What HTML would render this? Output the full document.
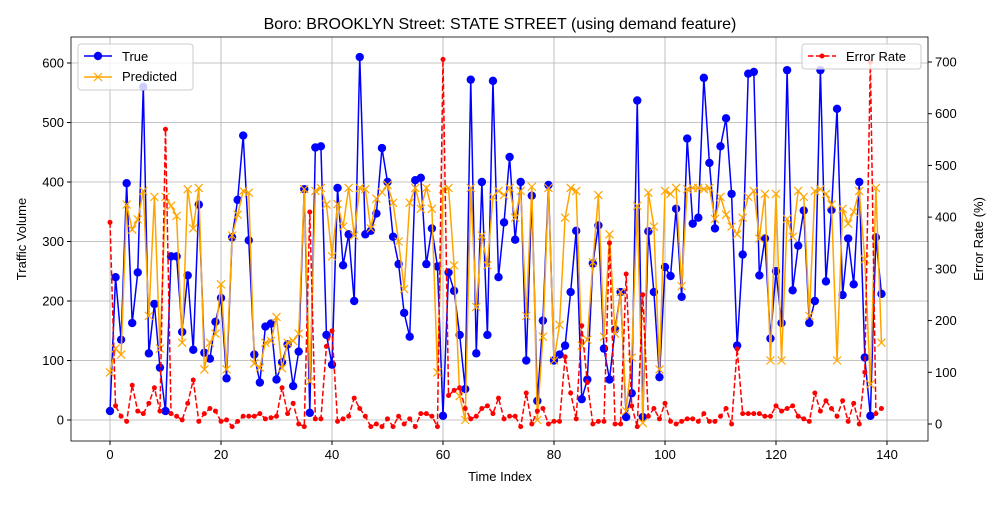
<!DOCTYPE html>
<html><head><meta charset="utf-8"><style>
body{margin:0;background:#fff;font-family:"Liberation Sans","DejaVu Sans",sans-serif}
svg text{font-family:"Liberation Sans","DejaVu Sans",sans-serif}
</style></head><body>
<svg id="c" width="1000" height="500" xmlns="http://www.w3.org/2000/svg"></svg>
<script>
const trueVals=[15,240,135,398,163,248,560,112,195,88,15,275,275,148,243,118,362,113,103,165,205,70,307,370,478,302,110,63,157,162,68,97,127,57,115,388,12,458,460,143,93,390,260,312,200,610,312,318,347,457,400,308,262,180,140,403,407,262,322,258,7,248,217,143,52,572,112,400,143,570,240,332,442,303,400,100,377,32,167,395,100,110,125,215,318,35,68,263,327,120,68,152,215,5,45,537,5,317,215,72,257,242,355,207,473,330,340,575,432,322,460,507,380,125,278,582,585,243,305,137,250,163,588,218,293,352,163,200,588,233,353,523,210,305,228,400,105,7,307,212];
const predVals=[80,120,110,362,320,337,385,175,375,120,375,360,343,130,388,322,390,85,130,145,228,85,310,345,385,382,95,88,130,133,173,87,130,133,145,388,65,385,390,362,275,363,325,390,310,390,388,322,372,383,395,365,300,220,365,390,355,390,355,80,388,390,260,40,0,390,190,310,260,375,385,378,390,340,385,175,392,0,140,390,100,160,340,390,385,125,135,265,378,140,312,145,215,15,105,360,-5,382,325,85,385,380,390,225,388,390,390,388,390,338,375,345,325,312,340,375,385,305,380,100,380,100,338,308,385,375,175,385,388,380,362,100,355,330,350,385,270,60,390,130];
const errVals=[390,35,15,5,75,25,20,40,70,25,570,20,15,8,40,85,5,20,30,25,5,8,-5,5,15,15,15,20,10,12,15,70,20,40,0,-5,410,10,10,150,180,5,10,15,50,30,15,-5,0,-5,10,-5,15,0,10,-5,20,20,15,-5,705,55,65,70,30,10,15,30,35,20,50,10,15,15,-5,60,0,25,30,0,5,5,130,60,10,190,80,0,5,5,350,0,0,290,35,-5,250,15,30,10,40,5,0,5,10,10,5,20,5,5,15,30,0,145,20,20,20,20,15,15,35,25,30,35,15,10,5,60,25,45,30,15,45,5,40,0,100,700,20,30];
const xTicks=[0,20,40,60,80,100,120,140];
const yTicks=[0,100,200,300,400,500,600];
const rTicks=[0,100,200,300,400,500,600,700];
const NS="http://www.w3.org/2000/svg";
const svg=document.getElementById('c');
const L=71,R=928,T=37,B=441;
const xs=v=>110+(887-110)*v/140;
const ys=v=>420-(420-63)*v/600;
const yr=v=>424-(424-62)*v/700;
function el(t,a,p){const e=document.createElementNS(NS,t);for(const k in a)e.setAttribute(k,a[k]);(p||svg).appendChild(e);return e;}
function tx(x,y,s,a,p){const e=el('text',Object.assign({x:x,y:y,'font-size':13,fill:'#000'},a),p);e.textContent=s;return e;}
const grid=el('g',{});
xTicks.forEach(v=>{el('line',{x1:xs(v),x2:xs(v),y1:T,y2:B,stroke:'#b0b0b0','stroke-width':0.8},grid);});
yTicks.forEach(v=>{el('line',{x1:L,x2:R,y1:ys(v),y2:ys(v),stroke:'#b0b0b0','stroke-width':0.8},grid);});
const xa=el('g',{});
xTicks.forEach(v=>{el('line',{x1:xs(v),x2:xs(v),y1:B,y2:B+4,stroke:'#000'},xa);tx(xs(v),B+18,String(v),{'text-anchor':'middle'},xa);});
const ya=el('g',{});
yTicks.forEach(v=>{el('line',{x1:L-4,x2:L,y1:ys(v),y2:ys(v),stroke:'#000'},ya);tx(L-7,ys(v)+4.5,String(v),{'text-anchor':'end'},ya);});
const ra=el('g',{});
rTicks.forEach(v=>{el('line',{x1:R,x2:R+4,y1:yr(v),y2:yr(v),stroke:'#000'},ra);tx(R+7,yr(v)+4.5,String(v),{},ra);});
function pts(arr,f){return arr.map((v,i)=>xs(i)+','+f(v)).join(' ');}
const clip=el('clipPath',{id:'cp'});el('rect',{x:L,y:T,width:R-L,height:B-T},clip);
const gT=el('g',{'clip-path':'url(#cp)'});
el('polyline',{points:pts(trueVals,ys),fill:'none',stroke:'#0000ff','stroke-width':1.5},gT);
trueVals.forEach((v,i)=>{const c=el('circle',{cx:xs(i),cy:ys(v),r:4.2,fill:'#0000ff'},gT);});
const gP=el('g',{'clip-path':'url(#cp)'});
el('polyline',{points:pts(predVals,ys),fill:'none',stroke:'#ffa500','stroke-width':1.5},gP);
predVals.forEach((v,i)=>{const x=xs(i),y=ys(v);const p=el('path',{d:`M${x-4},${y-4}L${x+4},${y+4}M${x-4},${y+4}L${x+4},${y-4}`,stroke:'#ffa500','stroke-width':1.2},gP);});
const gE=el('g',{'clip-path':'url(#cp)'});
el('polyline',{points:pts(errVals,yr),fill:'none',stroke:'#ff0000','stroke-width':1.5,'stroke-dasharray':'5.5,2.5'},gE);
errVals.forEach((v,i)=>{const c=el('circle',{cx:xs(i),cy:yr(v),r:2.5,fill:'#ff0000'},gE);});
const fr=el('rect',{x:L,y:T,width:R-L,height:B-T,fill:'none',stroke:'#000','stroke-width':0.8});
const ti=tx(500,29,'Boro: BROOKLYN Street: STATE STREET (using demand feature)',{'text-anchor':'middle','font-size':16});
const xt=tx(500,481,'Time Index',{'text-anchor':'middle'});
const yt=tx(0,0,'Traffic Volume',{'text-anchor':'middle',transform:'translate(26,239) rotate(-90)'});
const rt=tx(0,0,'Error Rate (%)',{'text-anchor':'middle',transform:'translate(983,239) rotate(-90)'});
const lg=el('g',{});
el('rect',{x:78,y:44,width:115,height:46,rx:3,fill:'#fff','fill-opacity':0.8,stroke:'#ccc'},lg);
el('line',{x1:84,x2:112,y1:56,y2:56,stroke:'#0000ff','stroke-width':1.5},lg);el('circle',{cx:98,cy:56,r:4.2,fill:'#0000ff'},lg);
tx(122,61,'True',{},lg);
el('line',{x1:84,x2:112,y1:77,y2:77,stroke:'#ffa500','stroke-width':1.5},lg);el('path',{d:'M94,73L102,81M94,81L102,73',stroke:'#ffa500','stroke-width':1.2},lg);
tx(122,81,'Predicted',{},lg);
const lg2=el('g',{});
el('rect',{x:802,y:44,width:119,height:25,rx:3,fill:'#fff','fill-opacity':0.8,stroke:'#ccc'},lg2);
el('line',{x1:808,x2:836,y1:56,y2:56,stroke:'#ff0000','stroke-width':1.5,'stroke-dasharray':'5.5,2.5'},lg2);el('circle',{cx:822,cy:56,r:2.5,fill:'#ff0000'},lg2);
tx(846,61,'Error Rate',{},lg2);
</script>
</body></html>
